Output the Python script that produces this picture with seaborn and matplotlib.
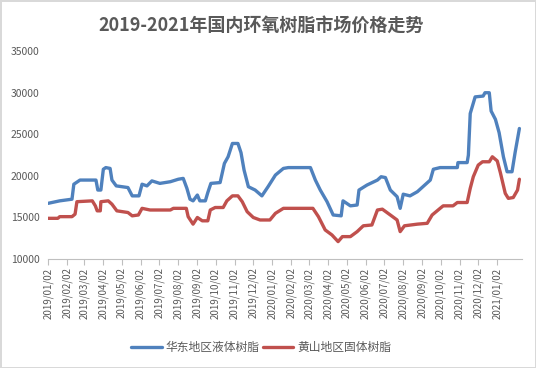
import pandas as pd
import numpy as np
import matplotlib
matplotlib.use("Agg")
import matplotlib.pyplot as plt
import matplotlib.dates as mdates
from matplotlib.lines import Line2D
import seaborn as sns

# data
east_dates = ["2019-01-02", "2019-01-21", "2019-02-10", "2019-02-13", "2019-02-23", "2019-03-21",
              "2019-03-24", "2019-03-29", "2019-04-02", "2019-04-06", "2019-04-13", "2019-04-16",
              "2019-04-23", "2019-05-12", "2019-05-19", "2019-05-30", "2019-06-04", "2019-06-12",
              "2019-06-20", "2019-07-03", "2019-07-20", "2019-08-02", "2019-08-10", "2019-08-16",
              "2019-08-21", "2019-08-26", "2019-09-02", "2019-09-06", "2019-09-15", "2019-09-19",
              "2019-09-24", "2019-10-09", "2019-10-16", "2019-10-22", "2019-10-29", "2019-11-07",
              "2019-11-12", "2019-11-17", "2019-11-24", "2019-12-05", "2019-12-16", "2019-12-26",
              "2020-01-07", "2020-01-20", "2020-01-28", "2020-03-04", "2020-03-12", "2020-03-20",
              "2020-03-31", "2020-04-10", "2020-04-23", "2020-04-26", "2020-05-08", "2020-05-19",
              "2020-05-22", "2020-06-04", "2020-06-21", "2020-06-27", "2020-07-04", "2020-07-12",
              "2020-07-23", "2020-07-28", "2020-08-02", "2020-08-13", "2020-08-25", "2020-09-03",
              "2020-09-15", "2020-09-20", "2020-10-01", "2020-10-29", "2020-10-30", "2020-11-14",
              "2020-11-16", "2020-11-19", "2020-11-27", "2020-12-10", "2020-12-13", "2020-12-20",
              "2020-12-23", "2020-12-30", "2021-01-05", "2021-01-12", "2021-01-18", "2021-01-26",
              "2021-01-31", "2021-02-07"]
east_price = [16700, 17000, 17200, 19000, 19500, 19500,
              18300, 18300, 20800, 21000, 20900, 19500,
              18800, 18600, 17600, 17600, 19000, 18800,
              19400, 19100, 19300, 19600, 19700, 18500,
              17200, 17000, 17700, 17000, 17000, 18000,
              19100, 19200, 21500, 22300, 23900, 23900,
              22800, 20700, 18700, 18300, 17600, 18700,
              20100, 20900, 21000, 21000, 19500, 18300,
              16900, 15300, 15200, 17000, 16400, 16500,
              18300, 18900, 19500, 19900, 19800, 18300,
              17500, 16100, 17800, 17600, 18100, 18700,
              19500, 20800, 21000, 21000, 21600, 21600,
              22500, 27500, 29500, 29600, 30000, 30000,
              27800, 26800, 25200, 22300, 20500, 20500,
              22800, 25700]

hs_dates = ["2019-01-02", "2019-01-18", "2019-01-21", "2019-02-10", "2019-02-15", "2019-02-18",
            "2019-03-15", "2019-03-20", "2019-03-23", "2019-03-28", "2019-03-29", "2019-04-10",
            "2019-04-16", "2019-04-24", "2019-05-12", "2019-05-19", "2019-05-29", "2019-06-04",
            "2019-06-17", "2019-07-20", "2019-07-25", "2019-08-15", "2019-08-18", "2019-08-26",
            "2019-09-02", "2019-09-10", "2019-09-19", "2019-09-23", "2019-10-01", "2019-10-14",
            "2019-10-20", "2019-10-29", "2019-11-07", "2019-11-14", "2019-11-22", "2019-12-02",
            "2019-12-13", "2019-12-29", "2020-01-07", "2020-01-20", "2020-03-08", "2020-03-17",
            "2020-03-28", "2020-04-08", "2020-04-18", "2020-04-25", "2020-05-08", "2020-05-19",
            "2020-05-29", "2020-06-12", "2020-06-21", "2020-06-29", "2020-07-12", "2020-07-23",
            "2020-07-28", "2020-08-04", "2020-08-25", "2020-09-10", "2020-09-18", "2020-10-01",
            "2020-10-06", "2020-10-22", "2020-10-29", "2020-11-14", "2020-11-19", "2020-11-24",
            "2020-12-02", "2020-12-09", "2020-12-20", "2020-12-25", "2021-01-02", "2021-01-07",
            "2021-01-15", "2021-01-20", "2021-01-28", "2021-02-04", "2021-02-07"]
hs_price = [14900, 14900, 15100, 15100, 15400, 16900,
            17000, 16400, 15800, 15800, 16900, 17000,
            16600, 15800, 15600, 15200, 15300, 16100,
            15900, 15900, 16100, 16100, 15100, 14200,
            15000, 14600, 14600, 15900, 16200, 16200,
            17000, 17600, 17600, 16900, 15700, 15000,
            14700, 14700, 15500, 16100, 16100, 15100,
            13500, 12900, 12100, 12700, 12700, 13300,
            14000, 14100, 15900, 16000, 15300, 14700,
            13300, 14000, 14200, 14300, 15300, 16100,
            16400, 16400, 16800, 16800, 18500, 19900,
            21300, 21700, 21700, 22300, 21800, 20400,
            17900, 17300, 17400, 18300, 19600]

series_names = ["华东地区液体树脂", "黄山地区固体树脂"]
colors = ["#4F81BD", "#C0504D"]
tick_dates = pd.date_range("2019-01-01", "2021-01-01", freq="MS") + pd.Timedelta(days=1)

df = pd.concat([
    pd.DataFrame({"date": pd.to_datetime(east_dates), "price": east_price, "series": series_names[0]}),
    pd.DataFrame({"date": pd.to_datetime(hs_dates), "price": hs_price, "series": series_names[1]}),
])

sns.set_style("white")
plt.rcParams["font.family"] = ["Noto Sans CJK SC", "DejaVu Sans"]

fig = plt.figure(figsize=(5.36, 3.68), dpi=100, linewidth=1, edgecolor="#d9d9d9")
ax = fig.add_axes([0.0896, 0.296, 0.884, 0.565])

sns.lineplot(data=df, x="date", y="price", hue="series", palette=colors,
             estimator=None, linewidth=2.4, legend=False, ax=ax)

ax.set_ylim(10000, 35000)
ax.set_yticks(range(10000, 35001, 5000))
ax.set_xlim(pd.Timestamp("2019-01-02"), pd.Timestamp("2021-02-11"))
ax.set_xticks(tick_dates)
ax.xaxis.set_major_formatter(mdates.DateFormatter("%Y/%m/%d"))
ax.tick_params(axis="x", rotation=90, labelsize=7, colors="#595959", length=4,
               width=0.8, direction="out", bottom=True, pad=2)
ax.tick_params(axis="x", color="#bfbfbf")
ax.tick_params(axis="y", labelsize=7.5, colors="#595959", length=0, pad=6)
ax.set_xlabel("")
ax.set_ylabel("")
for s in ["top", "right", "left"]:
    ax.spines[s].set_visible(False)
ax.spines["bottom"].set_color("#bfbfbf")
ax.spines["bottom"].set_linewidth(0.8)

fig.text(0.487, 0.932, "2019-2021年国内环氧树脂市场价格走势", ha="center", va="center",
         fontsize=13, fontweight="bold", color="#595959")

handles = [Line2D([0], [0], color=c, lw=2.4) for c in colors]
fig.legend(handles, series_names, loc="center", bbox_to_anchor=(0.487, 0.055), ncol=2,
           frameon=False, fontsize=8.5, handlelength=2.6, handletextpad=0.3,
           columnspacing=0.3, labelcolor="#595959")

fig.savefig("out.png", dpi=100)
